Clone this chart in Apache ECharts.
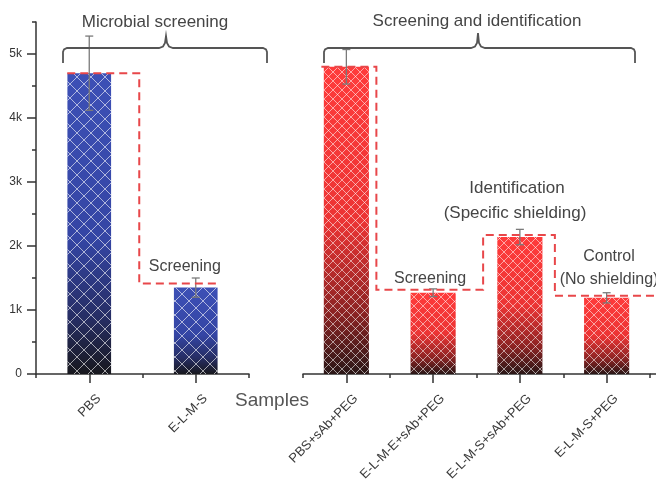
<!DOCTYPE html>
<html><head><meta charset="utf-8">
<script src="https://cdn.jsdelivr.net/npm/echarts@6/dist/echarts.min.js"></script>
<style>html,body{margin:0;padding:0;background:#fff}#c{width:656px;height:479px}</style>
</head><body><div id="c"></div>
<script>
// ---- data (values in thousands) ----
const leftCategories = ['PBS', 'E-L-M-S'];
const leftValues = [4.70, 1.35];
const leftErrors = [0.58, 0.15];
const rightCategories = ['PBS+sAb+PEG', 'E-L-M-E+sAb+PEG', 'E-L-M-S+sAb+PEG', 'E-L-M-S+PEG'];
const rightValues = [4.80, 1.27, 2.14, 1.19];
const rightErrors = [0.27, 0.06, 0.12, 0.08];
const yTicks = [0, 1, 2, 3, 4, 5];
const yTickLabels = ['0', '1k', '2k', '3k', '4k', '5k'];
const yMax = 5.5;
const xAxisName = 'Samples';
const groupTitles = ['Microbial screening', 'Screening and identification'];

const FONT = '"Liberation Sans", Arial, sans-serif';
const AX = '#333';

function hatch(size, alpha) {
  const c = document.createElement('canvas');
  c.width = size; c.height = size;
  const g = c.getContext('2d');
  g.strokeStyle = 'rgba(255,255,255,' + alpha + ')';
  g.lineWidth = 1;
  g.beginPath();
  g.moveTo(0, 0); g.lineTo(size, size);
  g.moveTo(size, 0); g.lineTo(0, size);
  g.stroke();
  return c;
}
const blueGrad = new echarts.graphic.LinearGradient(0, 0, 0, 1, [
  { offset: 0, color: '#3d50b6' }, { offset: 0.55, color: '#3445a4' },
  { offset: 0.82, color: '#262d62' }, { offset: 1, color: '#18181e' }]);
const redGrad = new echarts.graphic.LinearGradient(0, 0, 0, 1, [
  { offset: 0, color: '#ff3b3b' }, { offset: 0.5, color: '#ec3434' },
  { offset: 0.8, color: '#8c2323' }, { offset: 1, color: '#2a1717' }]);

function errorItem(params, api) {
  const x = api.value(0), v = api.value(1), e = api.value(2);
  const hi = api.coord([x, v + e]);
  const lo = api.coord([x, v - e]);
  const w = 4;
  const st = { stroke: '#7a7a7a', lineWidth: 1.3 };
  return { type: 'group', children: [
    { type: 'line', shape: { x1: hi[0], y1: hi[1], x2: lo[0], y2: lo[1] }, style: st },
    { type: 'line', shape: { x1: hi[0] - w, y1: hi[1], x2: hi[0] + w, y2: hi[1] }, style: st },
    { type: 'line', shape: { x1: lo[0] - w, y1: lo[1], x2: lo[0] + w, y2: lo[1] }, style: st }
  ] };
}

const catAxis = (gi, data) => ({
  type: 'category', gridIndex: gi, data: data, position: 'bottom',
  axisLine: { show: true, lineStyle: { color: AX, width: 1.5 } },
  axisTick: { show: true, alignWithLabel: true, length: 9, lineStyle: { color: AX, width: 1.5 } },
  axisLabel: { rotate: 45, margin: 13, verticalAlign: 'top', padding: [7, 0, 0, 0], fontSize: 13, color: '#3a3a3a', fontFamily: FONT, interval: 0 },
  splitLine: { show: false }
});
const boundAxis = (gi, n) => ({
  type: 'value', gridIndex: gi, min: 0, max: n, interval: 1, position: 'bottom',
  axisLine: { show: false },
  axisTick: { show: true, length: 4, lineStyle: { color: AX, width: 1.5 } },
  axisLabel: { show: false }, splitLine: { show: false }
});

const chart = echarts.init(document.getElementById('c'), null, { renderer: 'canvas' });
chart.setOption({
  animation: false,
  backgroundColor: '#fff',
  grid: [
    { left: 36, top: 22, width: 213, height: 352, containLabel: false, outerBoundsMode: 'none' },
    { left: 303, top: 22, width: 347, height: 352, containLabel: false, outerBoundsMode: 'none' }
  ],
  xAxis: [catAxis(0, leftCategories), boundAxis(0, leftCategories.length),
          catAxis(1, rightCategories), boundAxis(1, rightCategories.length)],
  yAxis: [
    { type: 'value', gridIndex: 0, position: 'left', min: 0, max: yMax, interval: 0.5,
      axisLine: { show: true, lineStyle: { color: AX, width: 1.5 } },
      axisTick: { show: true, length: 4, lineStyle: { color: AX, width: 1.5 } },
      axisLabel: { show: false }, splitLine: { show: false } },
    { type: 'value', gridIndex: 0, position: 'left', offset: 0, min: 0, max: yMax, interval: 1,
      axisLine: { show: false },
      axisTick: { show: true, length: 9, customValues: yTicks, lineStyle: { color: AX, width: 1.5 } },
      axisLabel: { show: true, customValues: yTicks, margin: 14, fontSize: 12, color: '#333', fontFamily: FONT,
        formatter: v => { const i = yTicks.indexOf(v); return i >= 0 ? yTickLabels[i] : ''; } },
      splitLine: { show: false } },
    { type: 'value', gridIndex: 1, min: 0, max: yMax, interval: 1, show: false, splitLine: { show: false } }
  ],
  series: [
    { type: 'bar', xAxisIndex: 0, yAxisIndex: 0, data: leftValues, barWidth: '41%', barGap: '-100%',
      itemStyle: { color: blueGrad }, z: 2 },
    { type: 'bar', xAxisIndex: 0, yAxisIndex: 0, data: leftValues, barWidth: '41%', barGap: '-100%',
      itemStyle: { color: { image: hatch(14, 0.6), repeat: 'repeat' } }, z: 3 },
    { type: 'bar', xAxisIndex: 2, yAxisIndex: 2, data: rightValues, barWidth: '52%', barGap: '-100%',
      itemStyle: { color: redGrad }, z: 2 },
    { type: 'bar', xAxisIndex: 2, yAxisIndex: 2, data: rightValues, barWidth: '52%', barGap: '-100%',
      itemStyle: { color: { image: hatch(9, 0.55), repeat: 'repeat' } }, z: 3 },
    { type: 'custom', xAxisIndex: 0, yAxisIndex: 0, renderItem: errorItem, z: 5,
      data: leftCategories.map((c, i) => [i, leftValues[i], leftErrors[i]]) },
    { type: 'custom', xAxisIndex: 2, yAxisIndex: 2, renderItem: errorItem, z: 5,
      data: rightCategories.map((c, i) => [i, rightValues[i], rightErrors[i]]) }
  ]
});

// ---- annotations (derived from data positions) ----
const L = (i, v) => chart.convertToPixel({ seriesIndex: 0 }, [i, v]);
const R = (i, v) => chart.convertToPixel({ seriesIndex: 2 }, [i, v]);
const W = chart.getWidth();
const l0 = L(0, leftValues[0]), l1 = L(1, leftValues[1]);
const r0 = R(0, rightValues[0]), r1 = R(1, rightValues[1]), r2 = R(2, rightValues[2]), r3 = R(3, rightValues[3]);
const axisY = R(0, 0)[1];
const dash = { stroke: '#e8474a', lineWidth: 2, lineDash: [8, 5], fill: null };
const txt = (x, y, t, size, color) => ({ type: 'text', x: x, y: y, z: 120,
  style: { text: t, fill: color || '#454545', font: size + 'px ' + FONT, align: 'center', verticalAlign: 'middle' } });
const brace = (x0, x1, xm, yTop, yEnd, yPeak) => ({ type: 'polyline', z: 110,
  shape: { points: [[x0, yEnd], [x0, yTop + 4], [x0 + 1, yTop + 1.5], [x0 + 4, yTop], [xm - 7, yTop], [xm - 3, yTop - 1.5], [xm - 1, yTop - 5], [xm, yPeak],
    [xm + 1, yTop - 5], [xm + 3, yTop - 1.5], [xm + 7, yTop], [x1 - 4, yTop], [x1 - 1, yTop + 1.5], [x1, yTop + 4], [x1, yEnd]] },
  style: { stroke: '#555', lineWidth: 1.8, fill: null } });

chart.setOption({
  graphic: [
    { type: 'polyline', z: 100, shape: { points: [[l0[0] - 22, l0[1]], [l0[0] + 50, l0[1]], [l0[0] + 50, l1[1] - 4], [l1[0] + 22, l1[1] - 4]] }, style: dash },
    { type: 'polyline', z: 100, shape: { points: [[r0[0] - 25, r0[1]], [r0[0] + 30, r0[1]], [r0[0] + 30, r1[1] - 3], [r1[0] + 50, r1[1] - 3],
      [r1[0] + 50, r2[1] - 2], [r2[0] + 35, r2[1] - 2], [r2[0] + 35, r3[1] - 2], [W, r3[1] - 2]] }, style: dash },
    { type: 'line', z: 100, shape: { x1: 650, y1: axisY, x2: W, y2: axisY }, style: { stroke: AX, lineWidth: 1.5 } },
    brace(63, 267, 166, 48, 63, 36),
    brace(324, 635, 478, 48, 63, 33),
    txt(155, 22, groupTitles[0], 17),
    txt(477, 21, groupTitles[1], 17),
    txt(272, 401, xAxisName, 19, '#555'),
    txt(l1[0] - 11, 267, 'Screening', 16),
    txt(r1[0] - 3, 279, 'Screening', 16),
    txt(517, 188, 'Identification', 17),
    txt(515, 213, '(Specific shielding)', 17),
    txt(609, 257, 'Control', 16),
    txt(609, 280, '(No shielding)', 16)
  ]
});
</script>
</body></html>
